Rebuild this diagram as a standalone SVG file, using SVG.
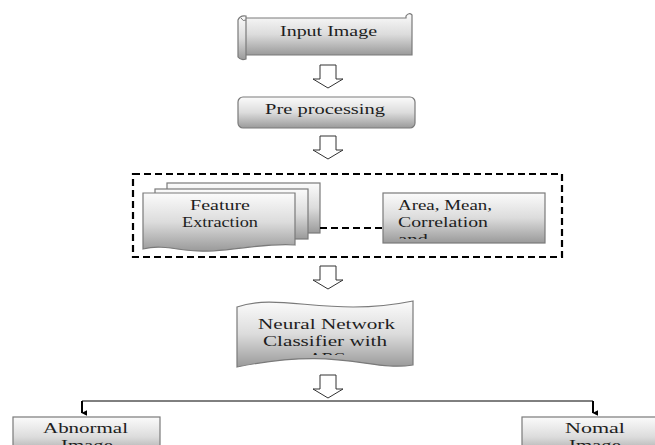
<svg xmlns="http://www.w3.org/2000/svg" width="655" height="445" viewBox="0 0 655 445">
<defs>
<linearGradient id="g" x1="0" y1="0" x2="0" y2="1">
<stop offset="0" stop-color="#fbfbfb"/>
<stop offset="0.5" stop-color="#dcdcdc"/>
<stop offset="1" stop-color="#9a9a9a"/>
</linearGradient>
<clipPath id="cArea"><rect x="383" y="193" width="162" height="46"/></clipPath>
<clipPath id="cNN"><rect x="237" y="295" width="176" height="60"/></clipPath>
<marker id="ah" viewBox="0 0 10 10" refX="5" refY="9" markerWidth="6" markerHeight="6" orient="auto-start-reverse" markerUnits="userSpaceOnUse">
<path d="M0,0 L10,0 L5,10 Z" fill="#000"/>
</marker>
</defs>
<style>
.box{fill:url(#g);stroke:#7a7a7a;stroke-width:1.2}
.t{font-family:"Liberation Serif","DejaVu Serif","Times New Roman",serif;font-size:14px;fill:#1e1e1e}
.hol{fill:#fff;stroke:#333;stroke-width:1}
.line{stroke:#000;stroke-width:1;fill:none}
</style>
<rect width="655" height="445" fill="#fff"/>

<g id="input">
<path class="box" d="M244,18 L406,18 L406,16 Q409,12 412,15 L412,55 L244,55 Z"/>
<path class="box" d="M238,20 Q240,15 246,16 L246,59 Q241,61 238,57 Z"/>
<path d="M241,18 Q243,22 246,20" fill="none" stroke="#7a7a7a"/>
<text class="t" x="280" y="36" textLength="97" lengthAdjust="spacingAndGlyphs">Input  Image</text>
</g>

<g id="preprocessing">
<rect class="box" x="238" y="97" width="177" height="31" rx="5"/>
<text class="t" x="265" y="114" textLength="120" lengthAdjust="spacingAndGlyphs">Pre processing</text>
</g>

<g id="featuregroup">
<rect x="133" y="174" width="429" height="83" fill="none" stroke="#000" stroke-width="2.2" stroke-dasharray="7,4"/>
</g>

<g id="feature">
<rect class="box" x="167" y="183" width="153" height="50"/>
<rect class="box" x="155" y="189" width="153" height="50"/>
<path class="box" d="M143,193 L295,193 L295,245 C260,242 220,255 185,250 C165,247 155,246 143,249 Z"/>
<text class="t" x="190" y="210" textLength="60" lengthAdjust="spacingAndGlyphs">Feature</text>
<text class="t" x="182" y="227" textLength="76" lengthAdjust="spacingAndGlyphs">Extraction</text>
</g>

<g id="area">
<rect class="box" x="383" y="193" width="162" height="50"/>
<g clip-path="url(#cArea)">
<text class="t" x="398" y="210" textLength="94" lengthAdjust="spacingAndGlyphs">Area, Mean,</text>
<text class="t" x="398" y="227" textLength="90" lengthAdjust="spacingAndGlyphs">Correlation</text>
<text class="t" x="398" y="244" textLength="30" lengthAdjust="spacingAndGlyphs">and</text>
</g>
</g>

<g id="classifier">
<path class="box" d="M237,307 C280,292 330,318 413,301 L413,365 C370,372 340,346 237,367 Z"/>
<g clip-path="url(#cNN)">
<text class="t" x="258" y="329" textLength="137" lengthAdjust="spacingAndGlyphs">Neural Network</text>
<text class="t" x="263" y="346" textLength="124" lengthAdjust="spacingAndGlyphs">Classifier  with</text>
<text class="t" x="309" y="363" textLength="36" lengthAdjust="spacingAndGlyphs">ABC</text>
</g>
</g>

<g id="abnormal">
<rect class="box" x="13" y="417" width="147" height="40"/>
<text class="t" x="43" y="433" textLength="85" lengthAdjust="spacingAndGlyphs">Abnormal</text>
<text class="t" x="61" y="450" textLength="52" lengthAdjust="spacingAndGlyphs">Image</text>
</g>

<g id="normal">
<rect class="box" x="522" y="417" width="140" height="40"/>
<text class="t" x="565" y="433" textLength="60" lengthAdjust="spacingAndGlyphs">Nomal</text>
<text class="t" x="569" y="450" textLength="52" lengthAdjust="spacingAndGlyphs">Image</text>
</g>

<g id="connectors">
<path class="hol" d="M320,65 L336,65 L336,79 L343,79 L328,88 L313,79 L320,79 Z"/>
<path class="hol" d="M320,136 L336,136 L336,150 L343,150 L328,159 L313,150 L320,150 Z"/>
<path class="hol" d="M320,266 L336,266 L336,280 L343,280 L328,289 L313,280 L320,280 Z"/>
<path class="hol" d="M320,375 L336,375 L336,389 L343,389 L328,398 L313,389 L320,389 Z"/>
<line x1="320" y1="228" x2="383" y2="228" stroke="#000" stroke-width="2.2" stroke-dasharray="7,4"/>
<path class="line" d="M82,401 L593,401"/>
<path d="M82,401 L82,413" stroke="#000" stroke-width="2" marker-end="url(#ah)"/>
<path d="M593,401 L593,413" stroke="#000" stroke-width="2" marker-end="url(#ah)"/>
</g>
</svg>
